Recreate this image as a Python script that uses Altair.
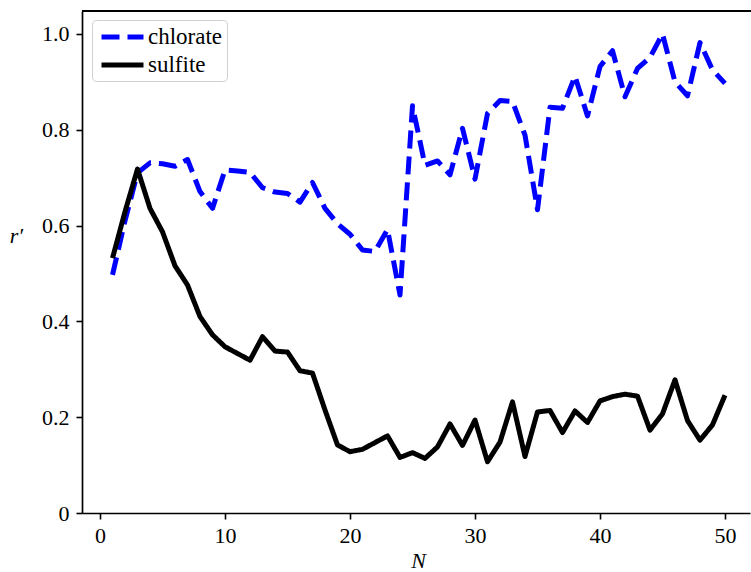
import altair as alt
import pandas as pd

N = list(range(1, 51))
chlorate = [0.497, 0.61, 0.71, 0.731, 0.729, 0.724, 0.738, 0.671, 0.636, 0.716,
            0.714, 0.711, 0.679, 0.670, 0.667, 0.649, 0.690, 0.636, 0.604, 0.582,
            0.549, 0.546, 0.592, 0.455, 0.850, 0.726, 0.735, 0.706, 0.803, 0.697,
            0.834, 0.861, 0.859, 0.789, 0.633, 0.847, 0.845, 0.912, 0.829, 0.932,
            0.965, 0.869, 0.928, 0.951, 1.000, 0.900, 0.871, 0.982, 0.925, 0.897]
sulfite = [0.532, 0.629, 0.718, 0.636, 0.587, 0.516, 0.476, 0.410, 0.372, 0.347,
           0.333, 0.319, 0.368, 0.338, 0.336, 0.297, 0.292, 0.215, 0.142, 0.128,
           0.133, 0.147, 0.161, 0.116, 0.126, 0.114, 0.138, 0.186, 0.141, 0.194,
           0.107, 0.148, 0.232, 0.118, 0.211, 0.214, 0.168, 0.213, 0.189, 0.234,
           0.243, 0.248, 0.244, 0.173, 0.207, 0.278, 0.193, 0.152, 0.184, 0.246]
series_names = ["chlorate", "sulfite"]
x_ticks = [0, 10, 20, 30, 40, 50]
y_ticks = [0, 0.2, 0.4, 0.6, 0.8, 1.0]

df = pd.concat([
    pd.DataFrame({"N": N, "r": chlorate, "series": "chlorate"}),
    pd.DataFrame({"N": N, "r": sulfite, "series": "sulfite"}),
])

FONT = "Liberation Serif"
W, H = 668, 502

common_axis = dict(titleFont=FONT, titleFontSize=22, titleFontWeight="normal",
                   titleFontStyle="italic", labelFont=FONT, labelFontSize=22,
                   tickSize=6, tickWidth=1.6, tickColor="black",
                   domainColor="black", domainWidth=1.7, grid=False,
                   labelColor="black", titleColor="black")

legend_opts = dict(title=None, labelFont=FONT, labelFontSize=23, labelColor="black")

lines = alt.Chart(df).mark_line(strokeWidth=5, strokeJoin="round", strokeCap="butt").encode(
    x=alt.X("N:Q", scale=alt.Scale(domain=[-1.44, 52.0], nice=False, zero=False),
            axis=alt.Axis(values=x_ticks, title="N", titleX=336, titleY=47,
                          titleBaseline="middle", labelPadding=6, **common_axis)),
    y=alt.Y("r:Q", scale=alt.Scale(domain=[0, 1.048], nice=False),
            axis=alt.Axis(values=y_ticks, title="r′", titleAngle=0,
                          titleX=-66, titleY=224, titleBaseline="middle", titleAlign="center",
                          labelExpr="datum.value == 0 ? '0' : format(datum.value, '.1f')",
                          labelPadding=7, **common_axis)),
    color=alt.Color("series:N", scale=alt.Scale(domain=series_names, range=["#0000ff", "#000000"]),
                    legend=alt.Legend(**legend_opts)),
    strokeDash=alt.StrokeDash("series:N", scale=alt.Scale(domain=series_names, range=[[18, 8], [1, 0]]),
                              legend=alt.Legend(**legend_opts)),
)

top = alt.Chart(df).mark_rule(color="black", strokeWidth=1.7).encode(
    x=alt.value(0), x2=alt.value(W + 10), y=alt.value(0)
)

chart = alt.layer(lines, top).properties(
    width=W, height=H,
    autosize=alt.AutoSizeParams(type="none"),
    padding={"left": 82, "top": 11, "right": 1, "bottom": 59},
).configure(background="white", font=FONT).configure_view(stroke=None).configure_legend(
    orient="none", legendX=10, legendY=9,
    symbolType="M-1,0H3", symbolSize=441, symbolStrokeWidth=5, symbolOffset=3,
    labelFont=FONT, labelFontSize=23, labelColor="black",
    fillColor="white", strokeColor="#d0d0d0", cornerRadius=4,
    padding=4, rowPadding=3, labelOffset=23,
)

chart.save("out.html", embed_options={"renderer": "svg", "actions": False})
